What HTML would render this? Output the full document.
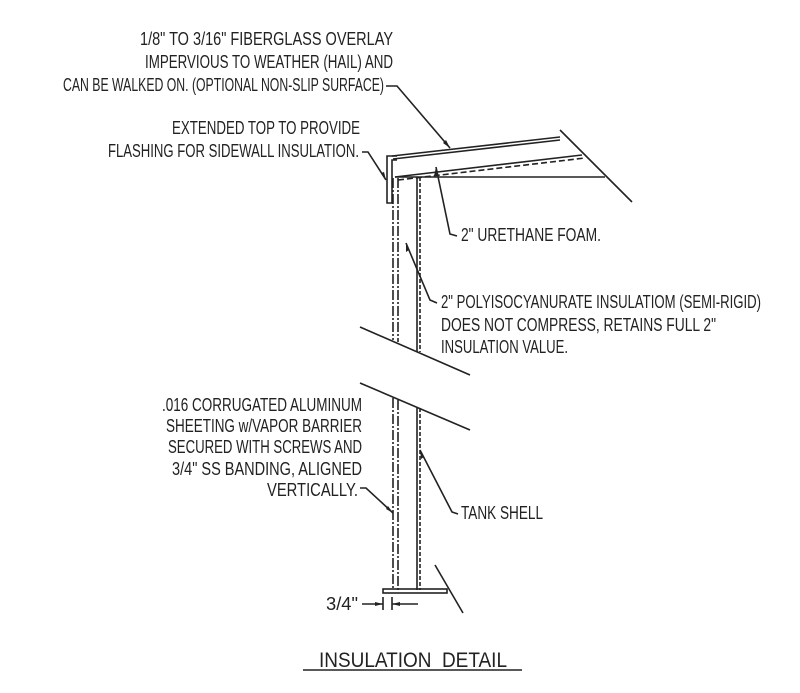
<!DOCTYPE html>
<html><head><meta charset="utf-8"><style>
html,body{margin:0;padding:0;background:#fff;}
svg{display:block;}
text{font-family:"Liberation Sans",sans-serif;font-size:18px;fill:#222;}
</style></head><body>
<svg width="800" height="693" viewBox="0 0 800 693" xmlns="http://www.w3.org/2000/svg">
<g stroke="#222" stroke-width="1.6" fill="none">
<line x1="392" y1="156" x2="560" y2="137"/>
<line x1="393" y1="159" x2="560" y2="140"/>
<line x1="395" y1="177" x2="582" y2="155"/>
<line x1="398" y1="180" x2="585" y2="158" stroke-dasharray="6,3"/>
<line x1="395" y1="177" x2="605" y2="177"/>
<line x1="560" y1="130" x2="632" y2="202"/>
<polyline points="397,156 387,156 387,203 392,203 392,160 397,160"/>
<line x1="393" y1="178" x2="393" y2="340" stroke-dasharray="10,2,2,2"/>
<line x1="398" y1="178" x2="398" y2="342" stroke-dasharray="10,2,2,2"/>
<line x1="417" y1="177" x2="417" y2="352"/>
<line x1="420" y1="177" x2="420" y2="352" stroke-dasharray="4,2"/>
<line x1="360" y1="327" x2="470" y2="375"/>
<line x1="360" y1="383" x2="470" y2="430"/>
<line x1="393" y1="398" x2="393" y2="590" stroke-dasharray="10,2,2,2"/>
<line x1="398" y1="400" x2="398" y2="590" stroke-dasharray="10,2,2,2"/>
<line x1="417" y1="408" x2="417" y2="590"/>
<line x1="420" y1="408" x2="420" y2="590" stroke-dasharray="4,2"/>
<rect x="383" y="589" width="64" height="4"/>
<line x1="435" y1="565" x2="463" y2="613"/>
<line x1="383" y1="597" x2="383" y2="610"/>
<line x1="392" y1="597" x2="392" y2="610"/>
<line x1="362" y1="604" x2="383" y2="604"/>
<line x1="392" y1="604" x2="418" y2="604"/>
<polyline points="386,86 397,86 450,148"/>
<polyline points="362,152 368,152 386,180"/>
<polyline points="457,236 450,234 436,167"/>
<polyline points="437,303 430,300 406,243"/>
<polyline points="360,488 366,488 393,513"/>
<polyline points="458,514 452,512 420,450"/>
<line x1="303" y1="670" x2="522" y2="670"/>
</g>
<g fill="#222">
<polygon points="450,148 443,143 446,140"/>
<polygon points="386,180 381,173 384,172"/>
<polygon points="436,167 434,176 438,175"/>
<polygon points="406,243 406,252 409,250"/>
<polygon points="393,513 386,509 388,506"/>
<polygon points="420,450 421,459 424,457"/>
<polygon points="383,604 375,602 375,606"/>
<polygon points="392,604 400,602 400,606"/>
</g>
<g>
<text x="393" y="45" text-anchor="end" textLength="253" lengthAdjust="spacingAndGlyphs">1/8" TO 3/16" FIBERGLASS OVERLAY</text>
<text x="393" y="68" text-anchor="end" textLength="248" lengthAdjust="spacingAndGlyphs">IMPERVIOUS TO WEATHER (HAIL) AND</text>
<text x="384" y="91" text-anchor="end" textLength="321" lengthAdjust="spacingAndGlyphs">CAN BE WALKED ON. (OPTIONAL NON-SLIP SURFACE)</text>
<text x="360" y="134" text-anchor="end" textLength="188" lengthAdjust="spacingAndGlyphs">EXTENDED TOP TO PROVIDE</text>
<text x="359" y="157" text-anchor="end" textLength="251" lengthAdjust="spacingAndGlyphs">FLASHING FOR SIDEWALL INSULATION.</text>
<text x="461" y="241" textLength="140" lengthAdjust="spacingAndGlyphs">2" URETHANE FOAM.</text>
<text x="441" y="308" textLength="320" lengthAdjust="spacingAndGlyphs">2" POLYISOCYANURATE INSULATIOM (SEMI-RIGID)</text>
<text x="441" y="331" textLength="275" lengthAdjust="spacingAndGlyphs">DOES NOT COMPRESS, RETAINS FULL 2"</text>
<text x="441" y="353" textLength="127" lengthAdjust="spacingAndGlyphs">INSULATION VALUE.</text>
<text x="362" y="411" text-anchor="end" textLength="200" lengthAdjust="spacingAndGlyphs">.016 CORRUGATED ALUMINUM</text>
<text x="362" y="432" text-anchor="end" textLength="196" lengthAdjust="spacingAndGlyphs">SHEETING w/VAPOR BARRIER</text>
<text x="362" y="453" text-anchor="end" textLength="194" lengthAdjust="spacingAndGlyphs">SECURED WITH SCREWS AND</text>
<text x="362" y="475" text-anchor="end" textLength="190" lengthAdjust="spacingAndGlyphs">3/4" SS BANDING, ALIGNED</text>
<text x="358" y="496" text-anchor="end" textLength="91" lengthAdjust="spacingAndGlyphs">VERTICALLY.</text>
<text x="461" y="519" textLength="82" lengthAdjust="spacingAndGlyphs">TANK SHELL</text>
<text x="326" y="610" textLength="32" lengthAdjust="spacingAndGlyphs">3/4"</text>
<text x="319" y="667" textLength="188" lengthAdjust="spacingAndGlyphs" style="font-size:21px">INSULATION&#160;&#160;DETAIL</text>
</g>
</svg>
</body></html>
